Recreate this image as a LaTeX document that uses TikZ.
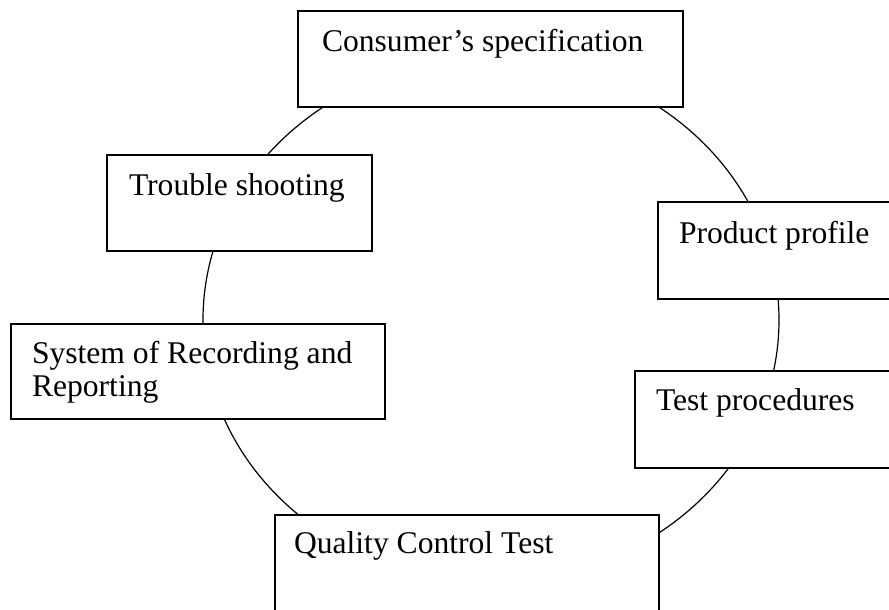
\documentclass[tikz,border=0pt]{standalone}
\usepackage{fontspec}
\setmainfont{Liberation Serif}
\begin{document}
\begin{tikzpicture}[x=1pt,y=-1pt,
  stepbox/.style={draw, line width=1.3pt, fill=white, inner sep=0pt, outer sep=0pt, anchor=north west},
  lbl/.style={inner sep=0pt, outer sep=0pt, anchor=base west, font=\fontsize{31.6}{33}\selectfont},
  ring/.style={line width=1.2pt}]
\useasboundingbox (0,0) rectangle (889,610);
\clip (0,0) rectangle (889,610);
\fill[white] (0,0) rectangle (889,610);
\coordinate (c) at (491,320);
\draw[ring] (c) ellipse [x radius=288pt, y radius=262pt];
\node[stepbox, minimum width=385pt, minimum height=96pt] (b1) at (298,11) {};
\node[lbl] (t1) at (322,52) {Consumer’s specification};
\node[stepbox, minimum width=265pt, minimum height=96pt] (b2) at (107,155) {};
\node[lbl] (t2) at (129,195) {Trouble shooting};
\node[stepbox, minimum width=240pt, minimum height=97pt] (b3) at (658,202) {};
\node[lbl] (t3) at (679,243) {Product profile};
\node[stepbox, minimum width=374pt, minimum height=95pt] (b4) at (11,324) {};
\node[lbl] (t4) at (32,363) {System of Recording and};
\node[lbl] (t4b) at (32,396) {Reporting};
\node[stepbox, minimum width=260pt, minimum height=97pt] (b5) at (635,371) {};
\node[lbl] (t5) at (656,410) {Test procedures};
\node[stepbox, minimum width=384pt, minimum height=110pt] (b6) at (275,515) {};
\node[lbl] (t6) at (294,553) {Quality Control Test};
\end{tikzpicture}
\end{document}
